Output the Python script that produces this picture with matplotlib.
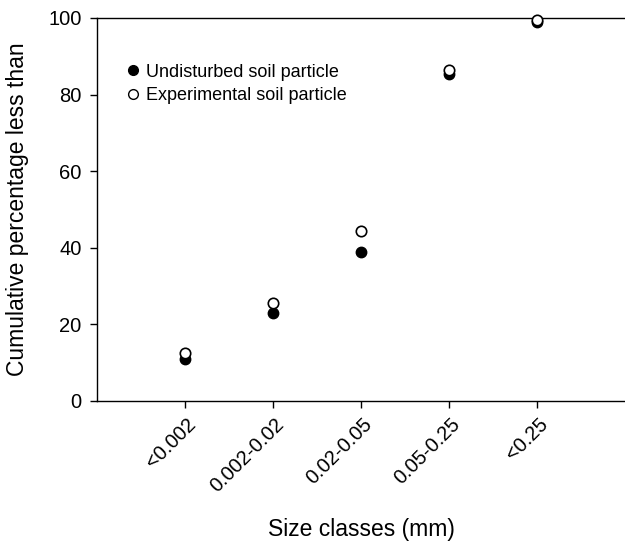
import matplotlib.pyplot as plt
import matplotlib.transforms as mtransforms
from matplotlib.lines import Line2D

plt.rcParams['font.family'] = ['Liberation Sans', 'DejaVu Sans']

size_classes = ["<0.002", "0.002-0.02", "0.02-0.05", "0.05-0.25", "<0.25"]
undisturbed = [11.0, 23.0, 39.0, 85.5, 99.0]
experimental = [12.5, 25.5, 44.5, 86.5, 99.5]

x = list(range(1, len(size_classes) + 1))

fig = plt.figure(figsize=(6.25, 5.44), dpi=100)
ax = fig.add_axes([97 / 625, 143 / 544, 1 - 97 / 625, 383 / 544])

ax.plot(x, undisturbed, "o", color="black", markersize=7.5, clip_on=False, zorder=3)
ax.plot(x, experimental, "o", markerfacecolor="white", markeredgecolor="black",
        markeredgewidth=1.2, markersize=7.5, clip_on=False, zorder=4)

ax.set_xlim(0, 6)
ax.set_ylim(0, 100)
ax.set_xticks(x)
ax.set_xticklabels(size_classes, rotation=45, ha="right", va="top",
                   rotation_mode="anchor", fontsize=14.5)
ax.set_yticks(range(0, 101, 20))
ax.tick_params(axis="y", labelsize=14.5, direction="out", length=5, width=1, pad=6)
ax.tick_params(axis="x", direction="out", length=5, width=1, pad=5)

# nudge the slanted category labels slightly to the right of their ticks
shift = mtransforms.ScaledTranslation(1 / 100, 0, fig.dpi_scale_trans)
for lbl in ax.get_xticklabels():
    lbl.set_transform(lbl.get_transform() + shift)

ax.spines["right"].set_visible(False)
for s in ["left", "top", "bottom"]:
    ax.spines[s].set_linewidth(1)

ax.set_xlabel("Size classes (mm)", fontsize=16.5)
ax.set_ylabel("Cumulative percentage less than", fontsize=16.5)
ax.xaxis.set_label_coords(0.5, -117 / 383)
ax.yaxis.set_label_coords(-68 / 528, 0.5)

handles = [
    Line2D([], [], marker="o", linestyle="none", color="black", markersize=7),
    Line2D([], [], marker="o", linestyle="none", markerfacecolor="white",
           markeredgecolor="black", markersize=7),
]
ax.legend(handles, ["Undisturbed soil particle", "Experimental soil particle"],
          loc="upper left", bbox_to_anchor=(0.035, 0.9), frameon=False,
          fontsize=13, handletextpad=0.2, labelspacing=0.35, handlelength=1.1,
          borderaxespad=0)

fig.savefig("out.png", dpi=100)
